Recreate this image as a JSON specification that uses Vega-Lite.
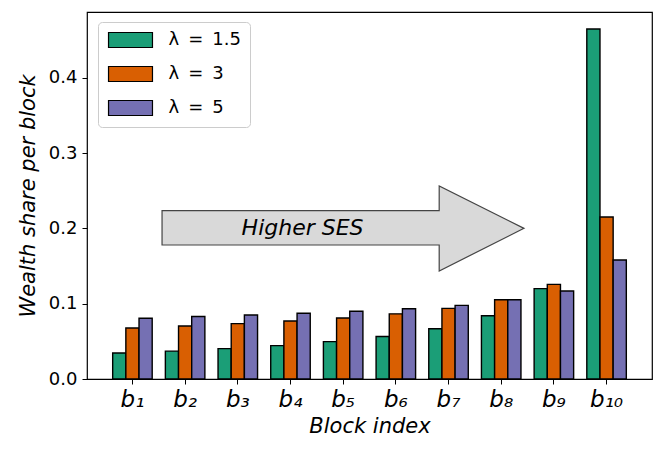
{
  "$schema": "https://vega.github.io/schema/vega-lite/v6.json",
  "width": 565,
  "height": 367,
  "autosize": "none",
  "padding": {"left": 87, "top": 12, "right": 12, "bottom": 74},
  "background": "white",
  "config": {
    "font": "DejaVu Sans",
    "view": {"stroke": "black", "strokeWidth": 1.2},
    "axis": {
      "grid": false,
      "domain": false,
      "tickColor": "black",
      "tickSize": 5,
      "tickWidth": 1,
      "labelColor": "black",
      "titleColor": "black",
      "titleFontWeight": "normal",
      "titleFontStyle": "italic"
    }
  },
  "datasets": {
    "bars": [
      {"block": "b₁", "lambda": "λ = 1.5", "share": 0.0345},
      {"block": "b₁", "lambda": "λ = 3", "share": 0.0677},
      {"block": "b₁", "lambda": "λ = 5", "share": 0.0806},
      {"block": "b₂", "lambda": "λ = 1.5", "share": 0.037},
      {"block": "b₂", "lambda": "λ = 3", "share": 0.0704},
      {"block": "b₂", "lambda": "λ = 5", "share": 0.0829},
      {"block": "b₃", "lambda": "λ = 1.5", "share": 0.0403},
      {"block": "b₃", "lambda": "λ = 3", "share": 0.0735},
      {"block": "b₃", "lambda": "λ = 5", "share": 0.085},
      {"block": "b₄", "lambda": "λ = 1.5", "share": 0.0443},
      {"block": "b₄", "lambda": "λ = 3", "share": 0.077},
      {"block": "b₄", "lambda": "λ = 5", "share": 0.0872},
      {"block": "b₅", "lambda": "λ = 1.5", "share": 0.0496},
      {"block": "b₅", "lambda": "λ = 3", "share": 0.081},
      {"block": "b₅", "lambda": "λ = 5", "share": 0.0899},
      {"block": "b₆", "lambda": "λ = 1.5", "share": 0.0565},
      {"block": "b₆", "lambda": "λ = 3", "share": 0.0865},
      {"block": "b₆", "lambda": "λ = 5", "share": 0.0932},
      {"block": "b₇", "lambda": "λ = 1.5", "share": 0.0668},
      {"block": "b₇", "lambda": "λ = 3", "share": 0.0938},
      {"block": "b₇", "lambda": "λ = 5", "share": 0.0977},
      {"block": "b₈", "lambda": "λ = 1.5", "share": 0.084},
      {"block": "b₈", "lambda": "λ = 3", "share": 0.1053},
      {"block": "b₈", "lambda": "λ = 5", "share": 0.1053},
      {"block": "b₉", "lambda": "λ = 1.5", "share": 0.12},
      {"block": "b₉", "lambda": "λ = 3", "share": 0.1256},
      {"block": "b₉", "lambda": "λ = 5", "share": 0.1169},
      {"block": "b₁₀", "lambda": "λ = 1.5", "share": 0.4646},
      {"block": "b₁₀", "lambda": "λ = 3", "share": 0.215},
      {"block": "b₁₀", "lambda": "λ = 5", "share": 0.158}
    ],
    "arrow": [
      {"ax": 0.562, "lo": 0.1779, "hi": 0.2234},
      {"ax": 5.823, "lo": 0.1779, "hi": 0.2234},
      {"ax": 5.8231, "lo": 0.1434, "hi": 0.2562},
      {"ax": 7.432, "lo": 0.2, "hi": 0.2}
    ],
    "note": [
      {"tx": 3.23, "ty": 0.2, "label": "Higher SES"}
    ]
  },
  "layer": [
    {
      "data": {"name": "bars"},
      "mark": {"type": "bar", "stroke": "black", "strokeWidth": 1.4},
      "encoding": {
        "x": {
          "field": "block",
          "type": "nominal",
          "sort": null,
          "scale": {"paddingInner": 0.25, "paddingOuter": 0.4875},
          "axis": {
            "title": "Block index",
            "titleFontSize": 21,
            "titlePadding": 4,
            "labelFontSize": 23,
            "labelFontStyle": "italic",
            "labelAngle": 0,
            "labelPadding": 4
          }
        },
        "xOffset": {
          "field": "lambda",
          "type": "nominal",
          "sort": ["λ = 1.5", "λ = 3", "λ = 5"],
          "scale": {"paddingInner": 0, "paddingOuter": 0}
        },
        "y": {
          "field": "share",
          "type": "quantitative",
          "scale": {"domain": [0, 0.4872], "nice": false},
          "axis": {
            "title": "Wealth share per block",
            "titleFontSize": 21,
            "titlePadding": 10,
            "labelFontSize": 18,
            "labelPadding": 5,
            "values": [0, 0.1, 0.2, 0.3, 0.4],
            "format": ".1f"
          }
        },
        "color": {
          "field": "lambda",
          "type": "nominal",
          "sort": ["λ = 1.5", "λ = 3", "λ = 5"],
          "scale": {"domain": ["λ = 1.5", "λ = 3", "λ = 5"], "range": ["#1b9e77", "#d95f02", "#7570b3"]},
          "legend": {
            "title": null,
            "orient": "none",
            "legendX": 11,
            "legendY": 10,
            "padding": 9,
            "fillColor": "white",
            "strokeColor": "#cccccc",
            "cornerRadius": 4,
            "symbolType": "M-2.93,-1L2.93,-1L2.93,1L-2.93,1Z",
            "symbolSize": 225,
            "symbolStrokeColor": "black",
            "symbolStrokeWidth": 1.2,
            "symbolOpacity": 1,
            "symbolOffset": 14.5,
            "labelOffset": 29,
            "labelFontSize": 18,
            "labelColor": "black",
            "labelExpr": "join(split(datum.label, ' '), '\u2002')",
            "rowPadding": 14
          }
        }
      }
    },
    {
      "data": {"name": "arrow"},
      "mark": {"type": "area", "fill": "#d9d9d9", "stroke": "#444444", "strokeWidth": 1.2, "opacity": 1},
      "encoding": {
        "x": {"field": "ax", "type": "quantitative", "scale": {"domain": [-0.8625, 9.8625], "nice": false, "zero": false}, "axis": null},
        "y": {"field": "lo", "type": "quantitative"},
        "y2": {"field": "hi"}
      }
    },
    {
      "data": {"name": "note"},
      "mark": {"type": "text", "fontSize": 22, "fontStyle": "italic", "color": "black", "align": "center", "baseline": "middle"},
      "encoding": {
        "x": {"field": "tx", "type": "quantitative", "scale": {"domain": [-0.8625, 9.8625], "nice": false, "zero": false}, "axis": null},
        "y": {"field": "ty", "type": "quantitative"},
        "text": {"field": "label"}
      }
    }
  ],
  "resolve": {"scale": {"x": "independent"}}
}
